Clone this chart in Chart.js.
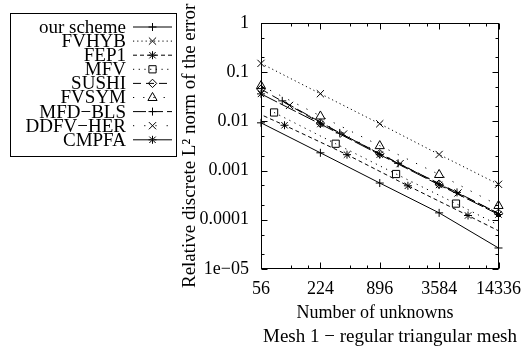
<!DOCTYPE html>
<html>
<head>
<meta charset="utf-8">
<script src="https://cdn.jsdelivr.net/npm/chart.js@4.4.0/dist/chart.umd.min.js"></script>
<style>
html,body{margin:0;padding:0;background:#fff;}
#wrap{width:530px;height:358px;}
</style>
</head>
<body>
<div id="wrap"><canvas id="c" width="530" height="358"></canvas></div>
<script>
// ---- data ----
const seriesNames = ['our scheme','FVHYB','FEP1','MFV','SUSHI','FVSYM','MFD\u2212BLS','DDFV\u2212HER','CMPFA'];
const cellsX    = [56, 224, 896, 3584, 14336];
const ourSchemeY = [0.0093, 0.00229, 0.000557, 0.000138, 0.0000267];
const fvhybY     = [0.15, 0.0363, 0.0089, 0.00212, 0.000525];
const fep1X      = [21, 97, 417, 1729, 7041, 28417];
const fep1Y      = [0.033, 0.0083, 0.0021, 0.00049, 0.000122, 0.00003];
const mfvX       = [76, 320, 1312, 5312, 21376];
const mfvY       = [0.0151, 0.0035, 0.00085, 0.000213, 0.000052];
const sushiY     = [0.045, 0.0092, 0.0022, 0.00053, 0.000135];
const fvsymY     = [0.053, 0.0128, 0.0032, 0.00083, 0.000195];
const mfdblsX    = [92, 352, 1376, 5440, 21632];
const mfdblsY    = [0.026, 0.0058, 0.0014, 0.00036, 0.000088];
const ddfvherX   = [109, 385, 1441, 5569, 21889];
const ddfvherY   = [0.021, 0.0055, 0.00138, 0.00035, 0.000088];
const cmpfaY     = [0.036, 0.0088, 0.0021, 0.00051, 0.000128];
const xTicks = [56, 224, 896, 3584, 14336];
const yTicks = [1, 0.1, 0.01, 0.001, 0.0001, 0.00001];
const yTickLabels = ['1','0.1','0.01','0.001','0.0001','1e\u221205'];
const xTitle = 'Number of unknowns';
const yTitle = 'Relative discrete L\u00B2 norm of the error';
const caption = 'Mesh 1 \u2212 regular triangular mesh';

const SERIF = '"Liberation Serif", "Times New Roman", serif';
const mk = (xs, ys) => xs.map((x, i) => ({x: x, y: ys[i]}));

const styles = [
  {dash: [],      marker: 'plus',     size: 4},
  {dash: [1.2, 3], marker: 'x',       size: 3.6},
  {dash: [4, 3],  marker: 'star',     size: 4},
  {dash: [1.2, 4.5], marker: 'square', size: 3.6},
  {dash: [8, 5],  marker: 'diamond',  size: 4.2},
  {dash: [1.2, 9], marker: 'triangle', size: 4.6},
  {dash: [13, 4], marker: 'plus',     size: 4},
  {dash: [1.2, 10], marker: 'x',      size: 3.6},
  {dash: [18, 3], marker: 'star',     size: 4}
];
const seriesData = [
  mk(cellsX, ourSchemeY), mk(cellsX, fvhybY), mk(fep1X, fep1Y), mk(mfvX, mfvY),
  mk(cellsX, sushiY), mk(cellsX, fvsymY), mk(mfdblsX, mfdblsY), mk(ddfvherX, ddfvherY), mk(cellsX, cmpfaY)
];

const datasets = seriesNames.map((name, i) => ({
  label: name,
  data: seriesData[i],
  borderColor: '#000',
  borderWidth: 1,
  borderDash: styles[i].dash,
  pointRadius: 0,
  pointHoverRadius: 0,
  fill: false,
  tension: 0,
  markerStyle: styles[i].marker,
  markerSize: styles[i].size
}));

function drawMarker(ctx, style, s, x, y) {
  ctx.save();
  ctx.setLineDash([]);
  ctx.strokeStyle = '#000';
  ctx.lineWidth = 1;
  ctx.beginPath();
  const d = s * 0.8;
  switch (style) {
    case 'plus':
      ctx.moveTo(x - s, y); ctx.lineTo(x + s, y);
      ctx.moveTo(x, y - s); ctx.lineTo(x, y + s);
      break;
    case 'x':
      ctx.moveTo(x - s, y - s); ctx.lineTo(x + s, y + s);
      ctx.moveTo(x - s, y + s); ctx.lineTo(x + s, y - s);
      break;
    case 'star':
      ctx.moveTo(x - s, y); ctx.lineTo(x + s, y);
      ctx.moveTo(x, y - s); ctx.lineTo(x, y + s);
      ctx.moveTo(x - d, y - d); ctx.lineTo(x + d, y + d);
      ctx.moveTo(x - d, y + d); ctx.lineTo(x + d, y - d);
      break;
    case 'square':
      ctx.rect(x - s, y - s, 2 * s, 2 * s);
      break;
    case 'diamond':
      ctx.moveTo(x, y - s); ctx.lineTo(x + s, y); ctx.lineTo(x, y + s); ctx.lineTo(x - s, y); ctx.closePath();
      break;
    case 'triangle':
      ctx.moveTo(x, y - s * 1.1); ctx.lineTo(x + s, y + s * 0.65); ctx.lineTo(x - s, y + s * 0.65); ctx.closePath();
      break;
  }
  ctx.stroke();
  ctx.restore();
}

const decorPlugin = {
  id: 'decor',
  afterDatasetsDraw(chart) {
    const ctx = chart.ctx;
    const a = chart.chartArea;
    const xs = chart.scales.x, ys = chart.scales.y;
    // markers at library-computed point positions
    chart.data.datasets.forEach((ds, i) => {
      const meta = chart.getDatasetMeta(i);
      meta.data.forEach(pt => {
        if (pt.x < a.left - 1 || pt.x > a.right + 1 || pt.y < a.top - 1 || pt.y > a.bottom + 1) return;
        drawMarker(ctx, ds.markerStyle, ds.markerSize, pt.x, pt.y);
      });
    });
    // frame
    ctx.save();
    ctx.strokeStyle = '#000';
    ctx.lineWidth = 1;
    ctx.setLineDash([]);
    const L = Math.round(a.left) + 0.5, R = Math.round(a.right) - 0.5;
    const T = Math.round(a.top) + 0.5, B = Math.round(a.bottom) - 0.5;
    ctx.strokeRect(L, T, R - L, B - T);
    ctx.beginPath();
    const major = 6, minor = 3;
    // x ticks
    xTicks.forEach(v => {
      const p = Math.round(xs.getPixelForValue(v)) + 0.5;
      ctx.moveTo(p, B); ctx.lineTo(p, B - major);
      ctx.moveTo(p, T); ctx.lineTo(p, T + major);
      [2, 3].forEach(m => {
        const mv = v * m;
        if (mv >= xs.max) return;
        const q = Math.round(xs.getPixelForValue(mv)) + 0.5;
        ctx.moveTo(q, B); ctx.lineTo(q, B - minor);
        ctx.moveTo(q, T); ctx.lineTo(q, T + minor);
      });
    });
    // y ticks
    yTicks.forEach(v => {
      const p = Math.round(ys.getPixelForValue(v)) + 0.5;
      ctx.moveTo(L, p); ctx.lineTo(L + major, p);
      ctx.moveTo(R, p); ctx.lineTo(R - major, p);
      [2, 5].forEach(m => {
        const mv = v * m;
        if (mv >= ys.max) return;
        const q = Math.round(ys.getPixelForValue(mv)) + 0.5;
        ctx.moveTo(L, q); ctx.lineTo(L + minor, q);
        ctx.moveTo(R, q); ctx.lineTo(R - minor, q);
      });
    });
    ctx.stroke();
    ctx.restore();
  },
  afterDraw(chart) {
    const ctx = chart.ctx;
    ctx.save();
    ctx.fillStyle = '#000';
    ctx.strokeStyle = '#000';
    // x title and caption
    ctx.font = '18px ' + SERIF;
    ctx.textAlign = 'center';
    ctx.textBaseline = 'middle';
    ctx.fillText(xTitle, 375, 313);
    ctx.font = '19px ' + SERIF;
    ctx.fillText(caption, 390, 337);
    // legend
    const bx = 10.5, by = 13.5, bw = 166, bh = 143;
    ctx.lineWidth = 1;
    ctx.setLineDash([]);
    ctx.strokeRect(bx, by, bw, bh);
    ctx.font = '19px ' + SERIF;
    ctx.textAlign = 'right';
    chart.data.datasets.forEach((ds, i) => {
      const yy = 27 + i * 14.1;
      ctx.fillText(ds.label, 126, yy + 1);
      ctx.save();
      ctx.setLineDash(ds.borderDash);
      ctx.beginPath();
      ctx.moveTo(133, yy); ctx.lineTo(172, yy);
      ctx.stroke();
      ctx.restore();
      drawMarker(ctx, ds.markerStyle, ds.markerSize, 152.5, yy);
    });
    ctx.restore();
  }
};

new Chart(document.getElementById('c'), {
  type: 'line',
  data: {datasets: datasets},
  plugins: [decorPlugin],
  options: {
    responsive: false,
    animation: false,
    events: [],
    layout: {padding: {top: 18, right: 27, left: 0, bottom: 0}},
    plugins: {legend: {display: false}, tooltip: {enabled: false}, title: {display: false}},
    scales: {
      x: {
        type: 'logarithmic',
        position: 'bottom',
        min: 56,
        max: 14336,
        afterBuildTicks: s => { s.ticks = xTicks.map(v => ({value: v})); },
        afterFit: s => { s.height = 89; },
        ticks: {
          color: '#000',
          font: {family: SERIF, size: 18},
          padding: 9,
          maxRotation: 0,
          autoSkip: false,
          callback: v => String(v)
        },
        grid: {display: false, drawTicks: false, tickLength: 0},
        border: {display: false},
        title: {display: false, text: xTitle}
      },
      y: {
        type: 'logarithmic',
        position: 'left',
        min: 0.00001,
        max: 1,
        afterBuildTicks: s => { s.ticks = yTicks.map(v => ({value: v})); },
        afterFit: s => { s.width = 261; },
        ticks: {
          color: '#000',
          font: {family: SERIF, size: 18},
          padding: 12,
          autoSkip: false,
          callback: v => {
            let best = 0;
            yTicks.forEach((t, i) => { if (Math.abs(Math.log10(t) - Math.log10(v)) < Math.abs(Math.log10(yTicks[best]) - Math.log10(v))) best = i; });
            return yTickLabels[best];
          }
        },
        grid: {display: false, drawTicks: false, tickLength: 0},
        border: {display: false},
        title: {
          display: true,
          text: yTitle,
          color: '#000',
          font: {family: SERIF, size: 19},
          padding: {top: 179, bottom: 0}
        }
      }
    }
  }
});
</script>
</body>
</html>
